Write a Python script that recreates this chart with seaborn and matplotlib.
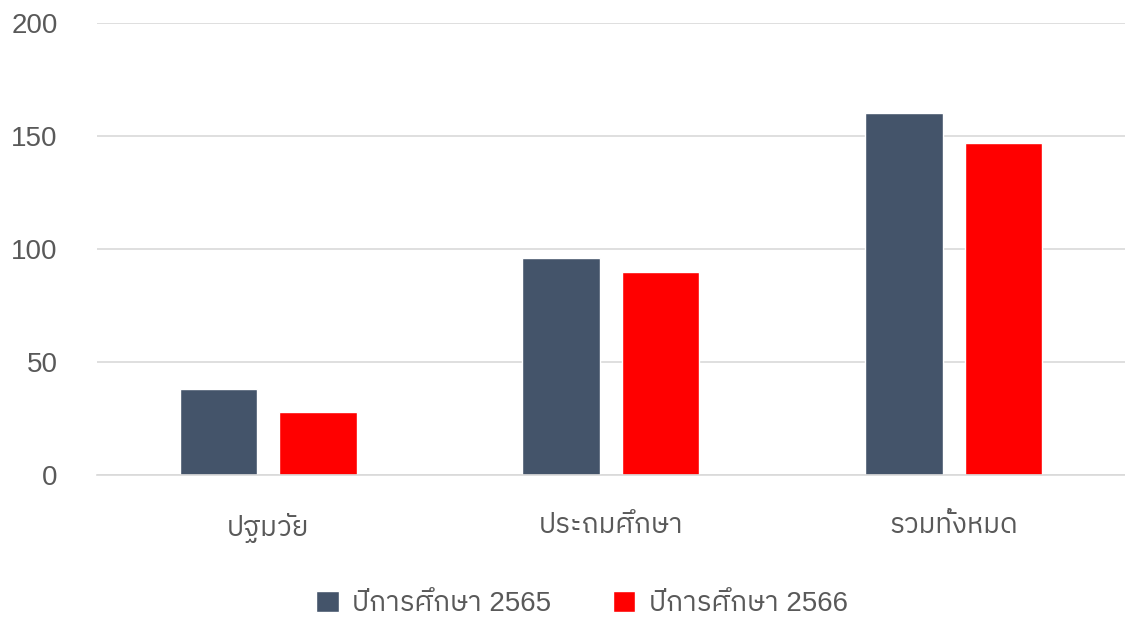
import matplotlib
matplotlib.use("Agg")
import matplotlib.pyplot as plt
from matplotlib import font_manager
import seaborn as sns
import pandas as pd

categories = ["ปฐมวัย", "ประถมศึกษา", "รวมทั้งหมด"]
series_names = ["ปีการศึกษา 2565", "ปีการศึกษา 2566"]
values_2565 = [38, 96, 160]
values_2566 = [28, 90, 147]
yticks = [0, 50, 100, 150, 200]

colors = ["#44546A", "#FF0000"]
text_color = "#595959"

sns.set_theme(style="white")
installed = {f.name for f in font_manager.fontManager.ttflist}
thai_candidates = [n for n in sorted(installed) if "Thai" in n] + [
    n for n in ["Loma", "Garuda", "Tlwg Typo", "Kinnari", "Norasi", "Sawasdee", "Umpush", "Waree", "Laksaman"] if n in installed]
families = [f for f in ["Liberation Sans"] if f in installed] + thai_candidates + ["DejaVu Sans"]
plt.rcParams["font.family"] = families

df = pd.DataFrame({
    "category": categories * 2,
    "series": [series_names[0]] * 3 + [series_names[1]] * 3,
    "value": values_2565 + values_2566,
})

fig = plt.figure(figsize=(11.25, 6.22), dpi=100)
ax = fig.add_axes([0.086, 0.2363, 0.914, 0.7267])
sns.barplot(data=df, x="category", y="value", hue="series", palette=colors,
            width=0.58, gap=0.22, ax=ax, saturation=1, legend=True)

ax.set_ylim(0, 200)
ax.set_xlim(-0.5, 2.5)
ax.set_yticks(yticks)
ax.yaxis.grid(True, color="#D9D9D9", linewidth=1.2)
ax.set_axisbelow(True)
for s in ["top", "right", "left"]:
    ax.spines[s].set_visible(False)
ax.spines["bottom"].set_color("#D9D9D9")
ax.spines["bottom"].set_linewidth(1.2)
ax.set_xlabel("")
ax.set_ylabel("")
ax.tick_params(axis="both", length=0, labelsize=20, colors=text_color)
ax.tick_params(axis="y", pad=28)
ax.tick_params(axis="x", pad=27)

handles, labels = ax.get_legend_handles_labels()
ax.legend(handles, labels, loc="center", bbox_to_anchor=(0.472, -0.285),
          ncol=2, frameon=False, fontsize=20, labelcolor=text_color,
          handlelength=0.8, handleheight=0.8, handletextpad=0.5, columnspacing=2.2)

fig.savefig("out.png", dpi=100)
